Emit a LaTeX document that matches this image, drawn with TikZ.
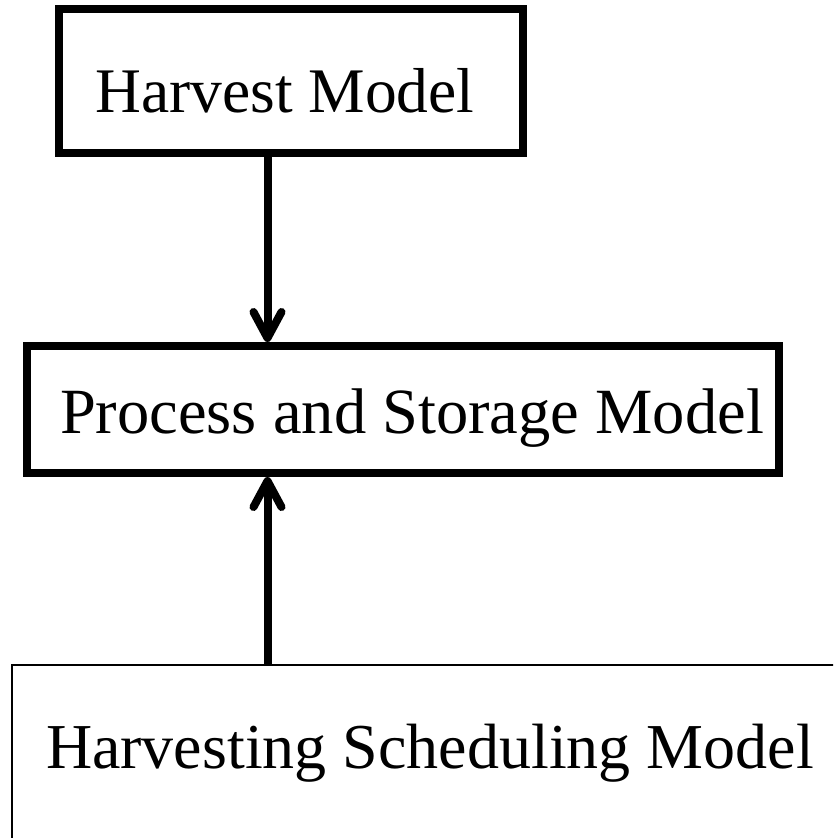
\documentclass[tikz,border=0pt]{standalone}
\usepackage{fontspec}
\setmainfont{Liberation Serif}
\usetikzlibrary{arrows.meta}

\tikzset{
  modelbox/.style={draw=black, line width=8pt, rectangle, inner sep=0pt,
    font=\fontsize{63.5}{76}\selectfont, text depth=0pt},
  thinbox/.style={modelbox, line width=2pt},
  flow/.style={draw=black, line width=8pt,
    -{Straight Barb[length=26pt, width=28pt, round]}}
}

\begin{document}
\begin{tikzpicture}[x=1pt, y=-1pt]
  \useasboundingbox (0,0) rectangle (833,838);
  \clip (0,0) rectangle (833,838);

  % the three models
  \node[modelbox, minimum width=464pt, minimum height=144pt, text height=62pt]
    (harvest) at (291,81) {\hspace*{-12pt}Harvest Model};
  \node[modelbox, minimum width=752pt, minimum height=127pt, text height=47pt,
        font=\fontsize{64.5}{77}\selectfont]
    (process) at (403,409.5) {\hspace*{18pt}Process and Storage Model};
  \node[thinbox, minimum width=840pt, minimum height=187pt, text height=19pt,
        font=\fontsize{64}{77}\selectfont]
    (schedule) at (432,758.5) {\hspace*{-4pt}Harvesting Scheduling Model};

  % common vertical line of the two connectors
  \coordinate (stem) at (267.5,0);

  \draw[flow] (harvest.south -| stem) -- (process.north -| stem);
  \draw[flow] (schedule.north -| stem) -- (process.south -| stem);
\end{tikzpicture}
\end{document}
